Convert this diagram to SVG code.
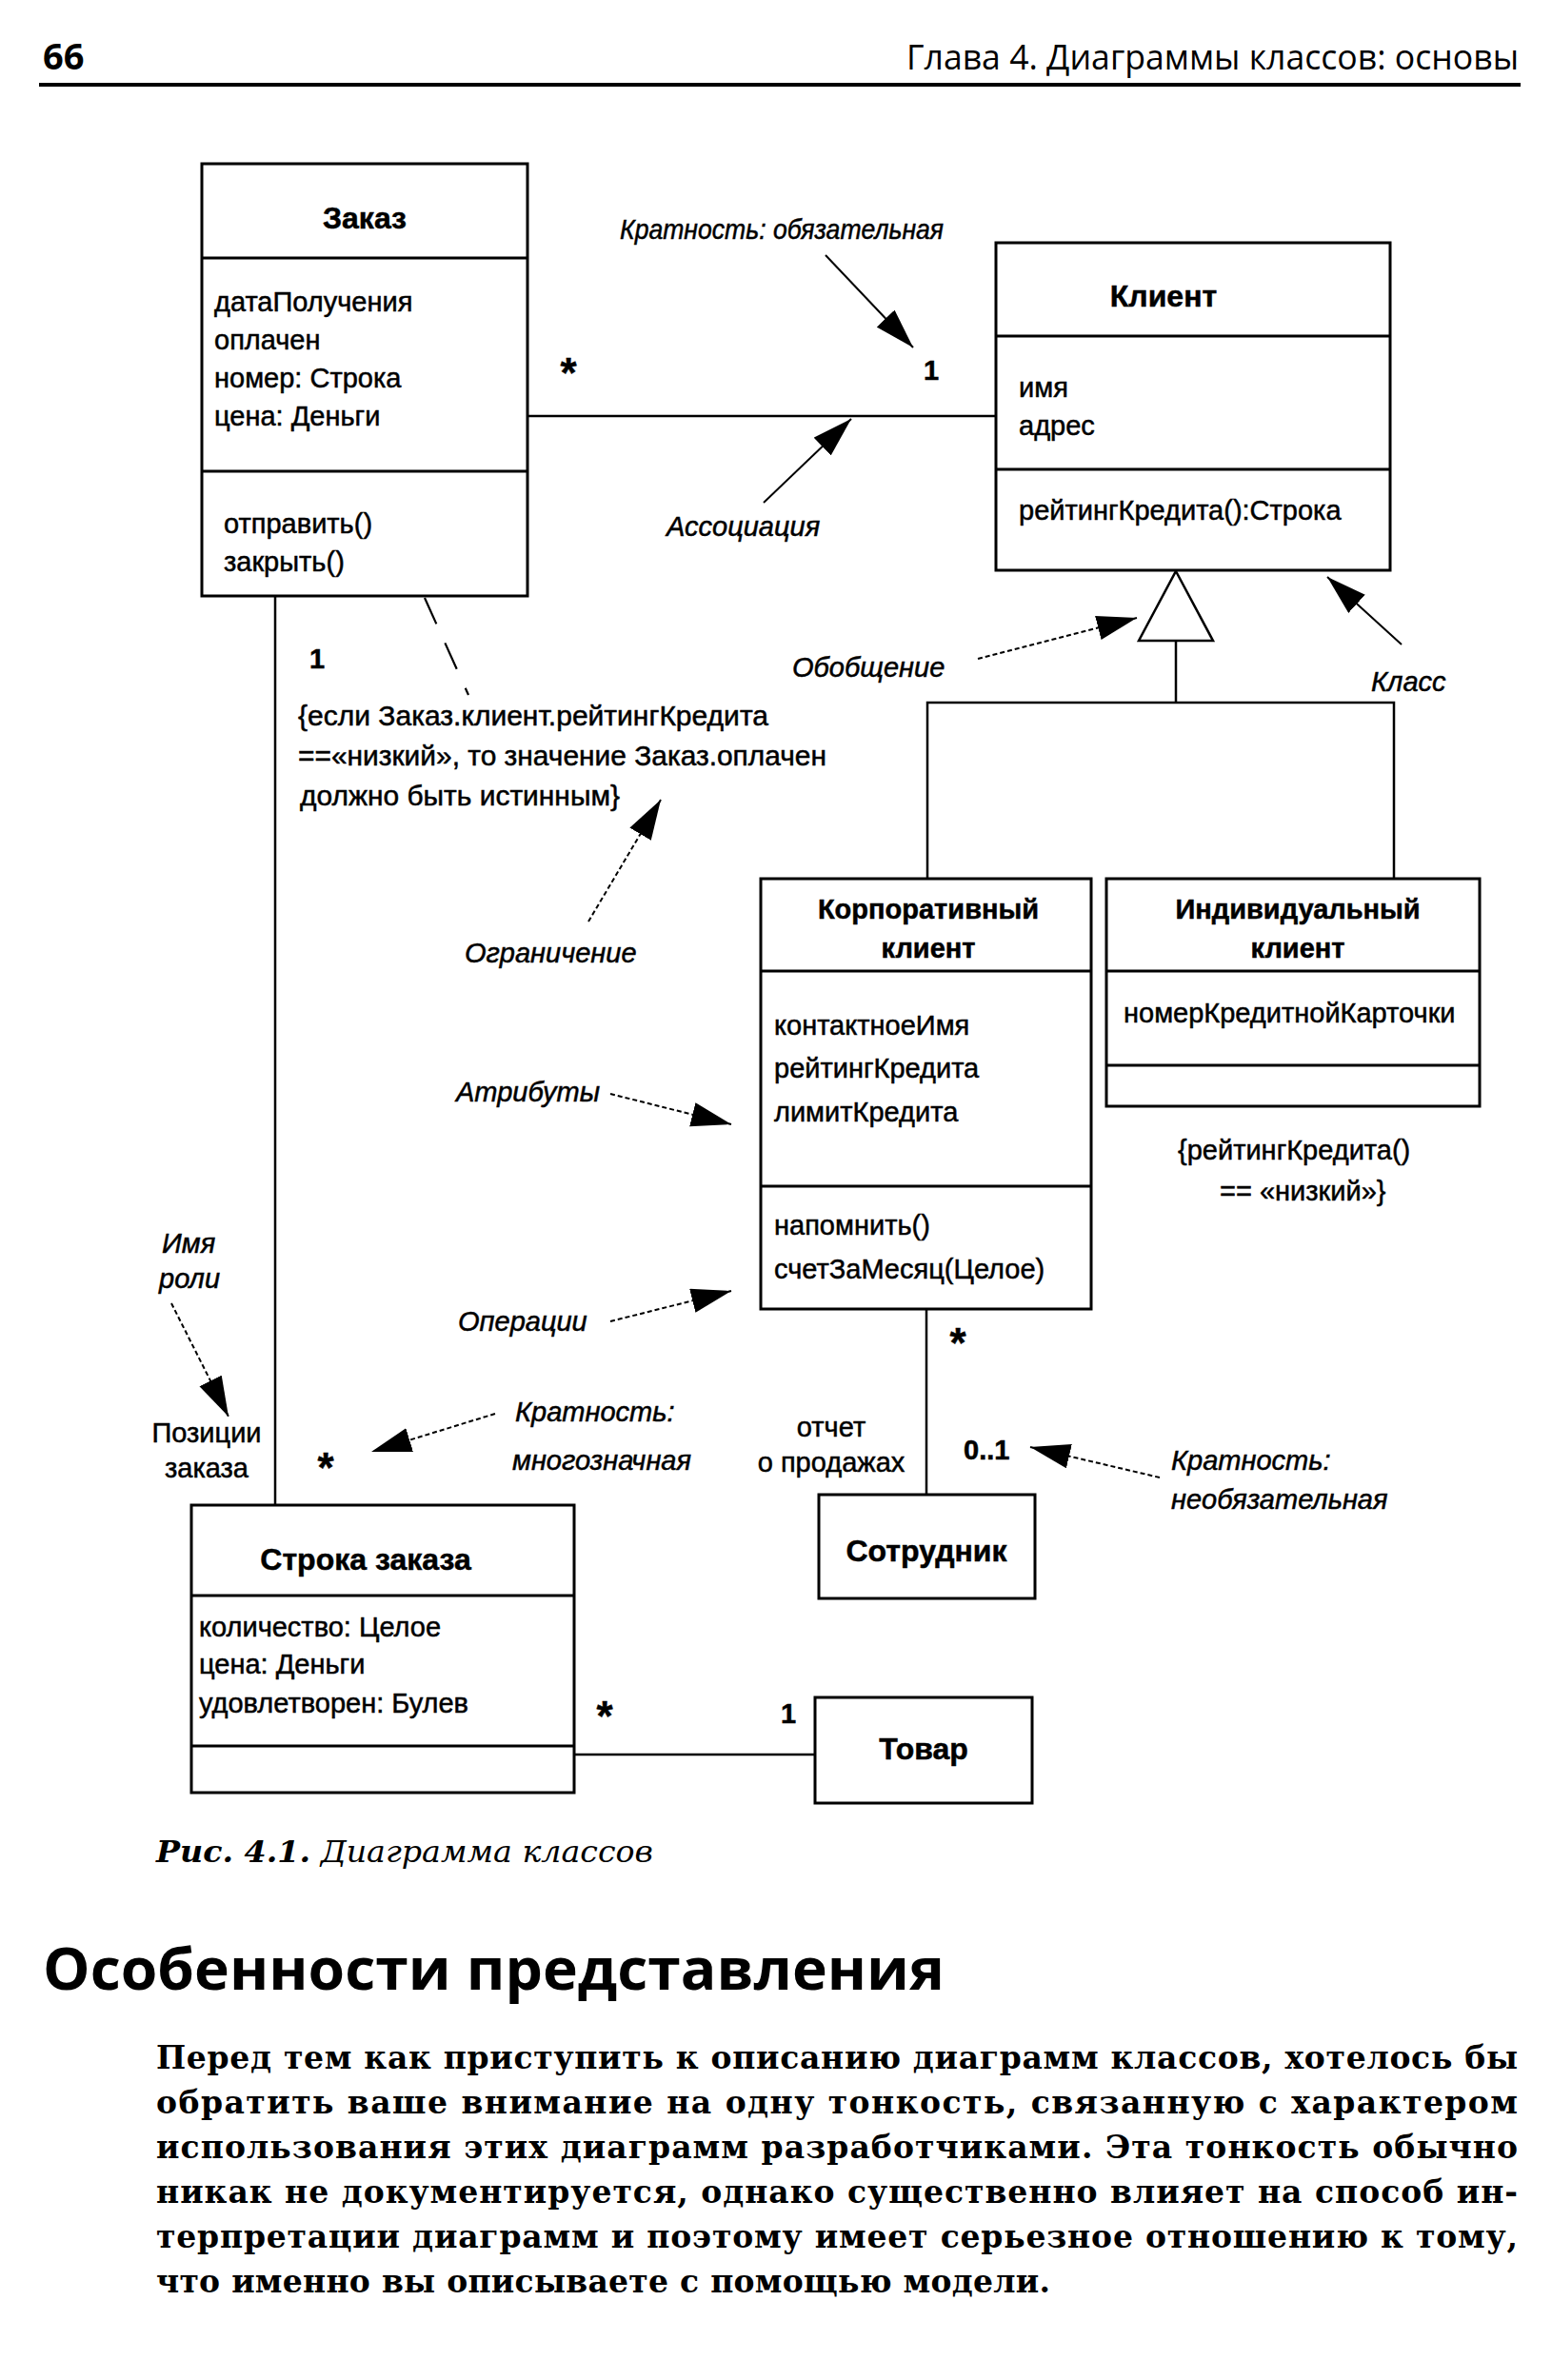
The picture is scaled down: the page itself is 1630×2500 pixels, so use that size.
<svg xmlns="http://www.w3.org/2000/svg" width="1630" height="2500" viewBox="0 0 1630 2500">
<style>
.t{font-family:"Liberation Sans",Arial,sans-serif;font-size:29px;fill:#000;stroke:#000;stroke-width:0.5}
.b{font-weight:bold}
.ttl{font-size:32px}
.i{font-style:italic}
.m{text-anchor:middle}
.ast{font-size:44px}
.box{fill:#fff;stroke:#000;stroke-width:3}
.dv{stroke:#000;stroke-width:3}
.ln{stroke:#000;stroke-width:2.5;fill:none}
.sl{stroke:#000;stroke-width:2;fill:none}
.dl{stroke:#000;stroke-width:2;stroke-dasharray:5 3;fill:none}
.nd{stroke:#000;stroke-width:2.2;stroke-dasharray:30 22;fill:none}
.hd{font-family:"Open Sans","DejaVu Sans",sans-serif;fill:#000}
.pr{font-family:"DejaVu Serif","Liberation Serif",serif;font-size:33px;font-weight:bold;fill:#000}
</style>
<defs>
<marker id="ah" markerUnits="userSpaceOnUse" viewBox="0 0 44 28" markerWidth="44" markerHeight="28" refX="42" refY="13" orient="auto">
<path d="M0,0 L42,13 L0,26 Z" fill="#000"/>
</marker>
</defs>
<rect width="1630" height="2500" fill="#fff"/>

<g id="header">
<text class="hd" x="45" y="73" font-size="38" font-weight="bold">66</text>
<text class="hd" x="952" y="73" font-size="36" textLength="643" lengthAdjust="spacingAndGlyphs">Глава 4. Диаграммы классов: основы</text>
<line x1="41" y1="89" x2="1597" y2="89" stroke="#000" stroke-width="4"/>
</g>

<g id="connectors">
<line class="ln" x1="554" y1="437" x2="1046" y2="437"/>
<line class="ln" x1="289" y1="626" x2="289" y2="1581"/>
<polygon points="1235,600 1274,673 1196,673" fill="#fff" stroke="#000" stroke-width="2.5"/>
<line class="ln" x1="1235" y1="673" x2="1235" y2="738"/>
<polyline class="ln" points="974,923 974,738 1464,738 1464,923"/>
<line class="ln" x1="973" y1="1375" x2="973" y2="1570"/>
<line class="ln" x1="603" y1="1843" x2="856" y2="1843"/>
<line class="nd" x1="446" y1="628" x2="492" y2="730"/>
</g>

<g id="node-order">
<rect class="box" x="212" y="172" width="342" height="454"/>
<line class="dv" x1="212" y1="271" x2="554" y2="271"/>
<line class="dv" x1="212" y1="495" x2="554" y2="495"/>
<text class="t b ttl m" x="383" y="240">Заказ</text>
<text class="t" x="225" y="327">датаПолучения</text>
<text class="t" x="225" y="367">оплачен</text>
<text class="t" x="225" y="407">номер: Строка</text>
<text class="t" x="225" y="447">цена: Деньги</text>
<text class="t" x="235" y="560">отправить()</text>
<text class="t" x="235" y="600">закрыть()</text>
</g>

<g id="node-client">
<rect class="box" x="1046" y="255" width="414" height="344"/>
<line class="dv" x1="1046" y1="353" x2="1460" y2="353"/>
<line class="dv" x1="1046" y1="493" x2="1460" y2="493"/>
<text class="t b ttl m" x="1222" y="322">Клиент</text>
<text class="t" x="1070" y="417">имя</text>
<text class="t" x="1070" y="457">адрес</text>
<text class="t" x="1070" y="546">рейтингКредита():Строка</text>
</g>

<g id="node-corporate">
<rect class="box" x="799" y="923" width="347" height="452"/>
<line class="dv" x1="799" y1="1020" x2="1146" y2="1020"/>
<line class="dv" x1="799" y1="1246" x2="1146" y2="1246"/>
<text class="t b m" x="975" y="965" font-size="31">Корпоративный</text>
<text class="t b m" x="975" y="1006" font-size="31">клиент</text>
<text class="t" x="813" y="1087">контактноеИмя</text>
<text class="t" x="813" y="1132">рейтингКредита</text>
<text class="t" x="813" y="1178">лимитКредита</text>
<text class="t" x="813" y="1297">напомнить()</text>
<text class="t" x="813" y="1343">счетЗаМесяц(Целое)</text>
</g>

<g id="node-individual">
<rect class="box" x="1162" y="923" width="392" height="239"/>
<line class="dv" x1="1162" y1="1020" x2="1554" y2="1020"/>
<line class="dv" x1="1162" y1="1119" x2="1554" y2="1119"/>
<text class="t b m" x="1363" y="965" font-size="31">Индивидуальный</text>
<text class="t b m" x="1363" y="1006" font-size="31">клиент</text>
<text class="t" x="1180" y="1074">номерКредитнойКарточки</text>
</g>

<g id="node-employee">
<rect class="box" x="860" y="1570" width="227" height="109"/>
<text class="t b ttl m" x="973" y="1640">Сотрудник</text>
</g>

<g id="node-orderline">
<rect class="box" x="201" y="1581" width="402" height="302"/>
<line class="dv" x1="201" y1="1676" x2="603" y2="1676"/>
<line class="dv" x1="201" y1="1834" x2="603" y2="1834"/>
<text class="t b ttl m" x="384" y="1649">Строка заказа</text>
<text class="t" x="209" y="1719">количество: Целое</text>
<text class="t" x="209" y="1758">цена: Деньги</text>
<text class="t" x="209" y="1799">удовлетворен: Булев</text>
</g>

<g id="node-product">
<rect class="box" x="856" y="1783" width="228" height="111"/>
<text class="t b ttl m" x="970" y="1848">Товар</text>
</g>

<g id="labels">
<text class="t b m ast" x="597" y="407">*</text>
<text class="t b" x="970" y="399" font-size="31">1</text>
<text class="t b" x="325" y="702" font-size="31">1</text>
<text class="t" x="313" y="762" textLength="494" lengthAdjust="spacingAndGlyphs">{если Заказ.клиент.рейтингКредита</text>
<text class="t" x="313" y="804" textLength="555" lengthAdjust="spacingAndGlyphs">==«низкий», то значение Заказ.оплачен</text>
<text class="t" x="315" y="846" textLength="336" lengthAdjust="spacingAndGlyphs">должно быть истинным}</text>
<text class="t" x="1237" y="1218">{рейтингКредита()</text>
<text class="t" x="1281" y="1261">== «низкий»}</text>
<text class="t b m ast" x="1006" y="1426">*</text>
<text class="t m" x="873" y="1509">отчет</text>
<text class="t m" x="873" y="1546">о продажах</text>
<text class="t b" x="1012" y="1533" font-size="31">0..1</text>
<text class="t m" x="217" y="1515">Позиции</text>
<text class="t m" x="217" y="1552">заказа</text>
<text class="t b m ast" x="342" y="1557">*</text>
<text class="t b m ast" x="635" y="1818">*</text>
<text class="t b" x="820" y="1810" font-size="31">1</text>
</g>

<g id="annotations">
<text class="t i" x="651" y="251" textLength="340" lengthAdjust="spacingAndGlyphs">Кратность: обязательная</text>
<line class="sl" x1="867" y1="268" x2="959" y2="365" marker-end="url(#ah)"/>
<text class="t i" x="700" y="563">Ассоциация</text>
<line class="sl" x1="802" y1="528" x2="894" y2="440" marker-end="url(#ah)"/>
<text class="t i" x="832" y="711">Обобщение</text>
<line class="dl" x1="1027" y1="692" x2="1194" y2="649" marker-end="url(#ah)"/>
<text class="t i" x="1440" y="726">Класс</text>
<line class="sl" x1="1472" y1="677" x2="1394" y2="606" marker-end="url(#ah)"/>
<text class="t i" x="488" y="1011">Ограничение</text>
<line class="dl" x1="618" y1="968" x2="694" y2="840" marker-end="url(#ah)"/>
<text class="t i" x="479" y="1157">Атрибуты</text>
<line class="dl" x1="641" y1="1149" x2="768" y2="1181" marker-end="url(#ah)"/>
<text class="t i" x="481" y="1398">Операции</text>
<line class="dl" x1="641" y1="1388" x2="768" y2="1356" marker-end="url(#ah)"/>
<text class="t i" x="170" y="1316">Имя</text>
<text class="t i" x="167" y="1353">роли</text>
<line class="dl" x1="180" y1="1369" x2="240" y2="1488" marker-end="url(#ah)"/>
<text class="t i" x="541" y="1493">Кратность:</text>
<text class="t i" x="538" y="1544">многозначная</text>
<line class="dl" x1="520" y1="1485" x2="390" y2="1525" marker-end="url(#ah)"/>
<text class="t i" x="1230" y="1544">Кратность:</text>
<text class="t i" x="1230" y="1585">необязательная</text>
<line class="dl" x1="1218" y1="1552" x2="1082" y2="1520" marker-end="url(#ah)"/>
</g>

<g id="caption">
<text x="164" y="1956" font-family="'DejaVu Serif','Liberation Serif',serif" font-size="31" font-style="italic" textLength="522" lengthAdjust="spacingAndGlyphs"><tspan font-weight="bold">Рис. 4.1.</tspan> Диаграмма классов</text>
</g>

<g id="body">
<text class="hd" x="45" y="2090" font-size="60" font-weight="bold" textLength="947" lengthAdjust="spacingAndGlyphs">Особенности представления</text>
<text class="pr" x="164" y="2173" textLength="1430" lengthAdjust="spacing">Перед тем как приступить к описанию диаграмм классов, хотелось бы</text>
<text class="pr" x="164" y="2220" textLength="1430" lengthAdjust="spacing">обратить ваше внимание на одну тонкость, связанную с характером</text>
<text class="pr" x="164" y="2267" textLength="1430" lengthAdjust="spacing">использования этих диаграмм разработчиками. Эта тонкость обычно</text>
<text class="pr" x="164" y="2314" textLength="1430" lengthAdjust="spacing">никак не документируется, однако существенно влияет на способ ин-</text>
<text class="pr" x="164" y="2361" textLength="1430" lengthAdjust="spacing">терпретации диаграмм и поэтому имеет серьезное отношению к тому,</text>
<text class="pr" x="164" y="2408" textLength="939" lengthAdjust="spacing">что именно вы описываете с помощью модели.</text>
</g>
</svg>
